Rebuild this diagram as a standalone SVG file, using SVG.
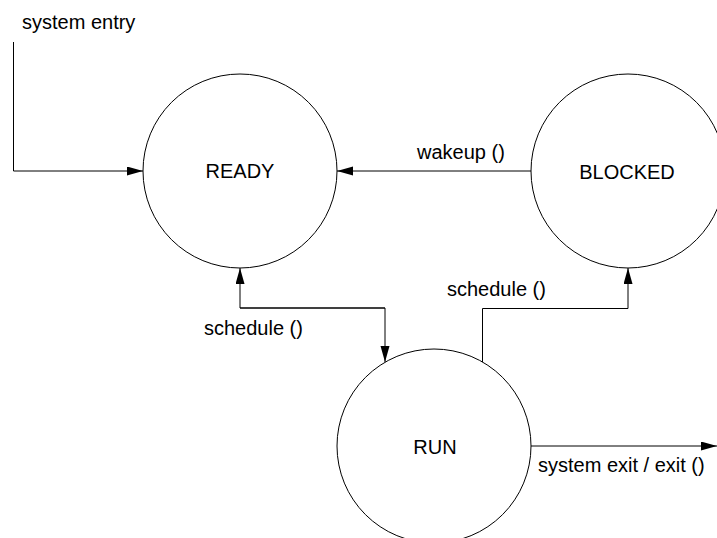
<svg xmlns="http://www.w3.org/2000/svg" width="717" height="538" viewBox="0 0 717 538">
<style>
text{font-family:"Liberation Sans",Arial,sans-serif;font-size:20px;fill:#000}
.c{text-anchor:middle}
.node{fill:#fff;stroke:#000;stroke-width:1}
.edge{fill:none;stroke:#000;stroke-width:1}
</style>
<defs>
<marker id="ah" markerUnits="userSpaceOnUse" markerWidth="17" markerHeight="10" refX="16" refY="4.5" orient="auto">
<path d="M0,0 L16,4.5 L0,9 Z" fill="#000"/>
</marker>
</defs>
<rect width="717" height="538" fill="#fff"/>
<g id="READY"><circle class="node" cx="240" cy="171" r="97"/><text class="c" x="240" y="178">READY</text></g>
<g id="BLOCKED"><circle class="node" cx="628" cy="171" r="97"/><text class="c" x="627" y="179">BLOCKED</text></g>
<g id="RUN"><circle class="node" cx="434" cy="446" r="97"/><text class="c" x="435" y="454">RUN</text></g>
<g id="connectors">
<path class="edge" d="M13.5,42 V171 H143" marker-end="url(#ah)"/>
<path class="edge" d="M531,171 H337" marker-end="url(#ah)"/>
<path class="edge" d="M385,308 H240 V268" marker-end="url(#ah)"/>
<path class="edge" d="M240,308 H385 V362" marker-end="url(#ah)"/>
<path class="edge" d="M482.5,362 V308.5 H628 V268" marker-end="url(#ah)"/>
<path class="edge" d="M531,446 H717" marker-end="url(#ah)"/>
</g>
<g id="labels">
<text x="22" y="29">system entry</text>
<text x="417" y="159">wakeup ()</text>
<text x="447" y="296">schedule ()</text>
<text x="204" y="335">schedule ()</text>
<text x="538" y="472">system exit / exit ()</text>
</g>
</svg>
